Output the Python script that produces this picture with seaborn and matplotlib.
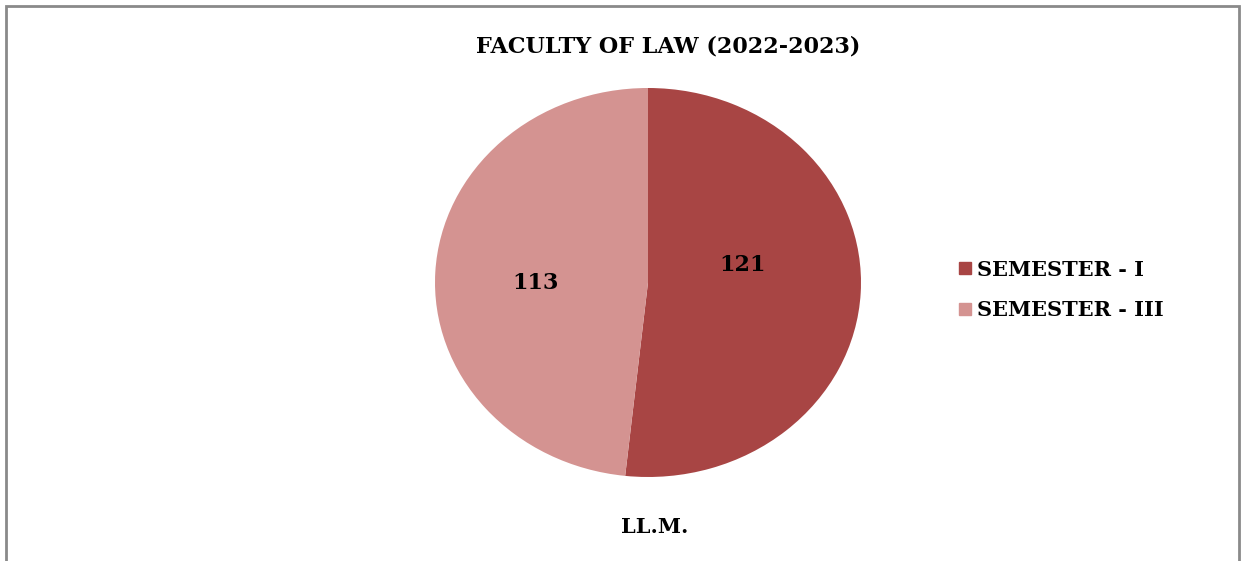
import matplotlib
matplotlib.use("Agg")
import matplotlib.pyplot as plt
import matplotlib.patches as mpatches
import seaborn as sns

categories = ["SEMESTER - I", "SEMESTER - III"]
values = [121, 113]
colors = ["#A84544", "#D49391"]
title = "FACULTY OF LAW (2022-2023)"
xlabel = "LL.M."

sns.set_theme(style="white")
plt.rcParams["font.family"] = ["DejaVu Serif"]
plt.rcParams["font.weight"] = "bold"
plt.rcParams["text.color"] = "black"

fig = plt.figure(figsize=(12.41, 5.61), dpi=100)
W, H = 1241, 561
cx, cy, rx, ry = 648, 282.5, 213, 194.5
ax = fig.add_axes([(cx - rx) / W, (H - cy - ry) / H, 2 * rx / W, 2 * ry / H])

wedges, texts, autotexts = ax.pie(
    values, colors=colors, startangle=90, counterclock=False,
    autopct=lambda p: f"{round(p * sum(values) / 100):d}",
    pctdistance=0.5, radius=1.0,
    wedgeprops=dict(linewidth=0),
    textprops=dict(fontsize=16, fontweight="bold", color="black"),
)
# nudge data labels to where the reference places them
label_offsets = [(-0.055, 0.115), (-0.03, -0.03)]
for t, (dx, dy) in zip(autotexts, label_offsets):
    x, y = t.get_position()
    t.set_position((x + dx, y + dy))

ax.set_xlim(-1, 1)
ax.set_ylim(-1, 1)
ax.set_aspect("auto")
ax.axis("off")

fig.text(668 / W, 1 - 47 / H, title, ha="center", va="center",
         fontsize=16, fontweight="bold", color="black")
fig.text(655 / W, 1 - 527 / H, xlabel, ha="center", va="center",
         fontsize=15, fontweight="bold", color="black")

handles = [mpatches.Patch(color=c, label=l) for c, l in zip(colors, categories)]
leg = fig.legend(handles=handles, loc="center left",
                 bbox_to_anchor=(951 / W, 1 - 290 / H), frameon=False,
                 prop=dict(size=15, weight="bold"), handlelength=0.55,
                 handleheight=0.55, handletextpad=0.3, labelspacing=1.0,
                 borderaxespad=0)
for t in leg.get_texts():
    t.set_color("black")

border = mpatches.Rectangle((6 / W, -0.05), (1239 - 6) / W, 1.05 - 6 / H,
                            transform=fig.transFigure, fill=False,
                            edgecolor="#8a8a8a", linewidth=2)
fig.patches.append(border)

fig.savefig("out.png", dpi=100, facecolor="white")
